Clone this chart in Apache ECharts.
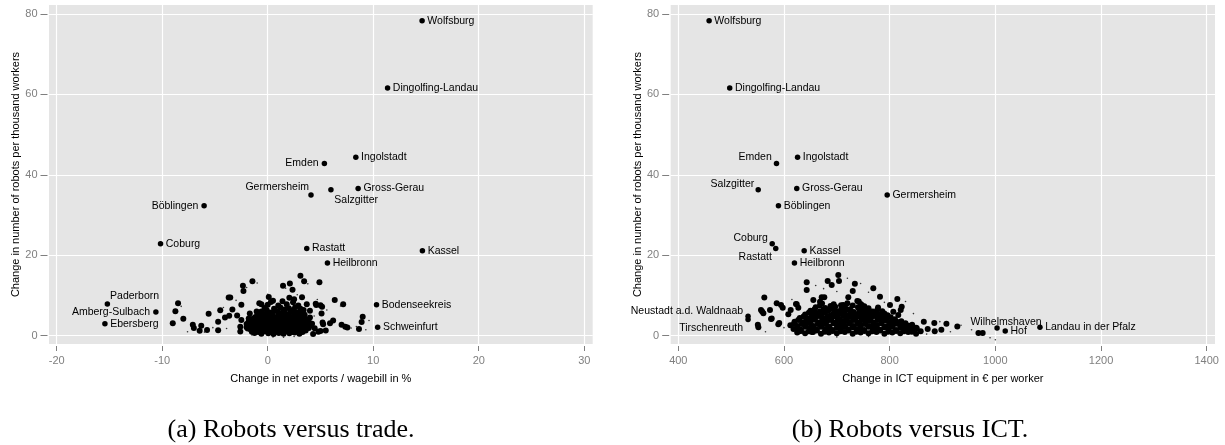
<!DOCTYPE html>
<html>
<head>
<meta charset="utf-8">
<script src="https://cdn.jsdelivr.net/npm/echarts@6/dist/echarts.min.js"></script>
<style>
  html, body { margin: 0; padding: 0; background: #ffffff; }
  #chart { width: 1225px; height: 445px; }
</style>
</head>
<body>
<div id="chart"></div>
<script>
// ---------------- data ----------------
const yTicks = [0, 20, 40, 60, 80];
const tradeTicks = [-20, -10, 0, 10, 20, 30];
const ictTicks = [400, 600, 800, 1000, 1200, 1400];

// Panel (a): labelled districts
const tradeNames = ['Wolfsburg', 'Dingolfing-Landau', 'Ingolstadt', 'Emden', 'Gross-Gerau', 'Salzgitter',
  'Germersheim', 'Böblingen', 'Coburg', 'Rastatt', 'Kassel', 'Heilbronn', 'Paderborn',
  'Amberg-Sulbach', 'Ebersberg', 'Bodenseekreis', 'Schweinfurt'];
const tradeX = [14.63, 11.36, 8.35, 5.37, 8.57, 5.99, 4.10, -6.03, -10.16, 3.70, 14.66, 5.66, -15.2, -10.6, -15.43, 10.31, 10.42];
const tradeY = [78.3, 61.6, 44.4, 42.8, 36.6, 36.3, 35.0, 32.3, 22.9, 21.7, 21.1, 18.1, 7.9, 5.9, 3.0, 7.7, 2.1];

// Panel (a): unlabelled districts (large markers)
const tradeCluster = [
  [-8.5, 8.1], [-8.75, 6.1], [-8.0, 4.2], [-9.0, 3.1], [-7.1, 2.7], [-7.0, 1.9], [-6.45, 1.25], [-6.3, 2.5],
  [-5.75, 1.4], [-5.6, 5.45], [-4.7, 3.5], [-4.7, 1.35], [-4.5, 6.35], [-4.05, 4.55], [-3.65, 4.95], [-3.35, 6.5],
  [-3.7, 9.5], [-3.55, 9.5], [-2.9, 5.0], [-2.5, 7.7], [-2.35, 12.45], [-2.3, 11.1], [-1.45, 13.55], [-2.5, 3.9],
  [-2.6, 2.2], [-2.6, 1.05], [-2.0, 2.1], [-1.7, 5.55], [-1.8, 4.3], [-1.05, 6.0], [-0.6, 7.8], [0.1, 9.6],
  [0.5, 8.7], [-0.8, 8.1],
  [1.45, 12.4], [2.1, 13.0], [2.35, 11.4], [2.05, 9.45], [2.5, 9.05], [3.1, 14.9], [3.45, 13.55], [3.25, 9.55],
  [4.9, 13.3], [4.6, 7.65], [5.15, 7.2], [6.35, 8.9], [7.15, 7.85], [5.1, 5.5], [5.25, 2.85], [5.9, 3.1],
  [6.2, 3.8], [4.3, 0.45], [5.0, 1.2], [5.5, 1.3], [7.0, 2.7], [7.35, 2.2], [7.55, 2.05], [4.45, 1.85],
  [8.65, 1.7], [9.0, 4.7], [8.9, 3.4], [4.8, 1.0], [3.1, 1.3], [4.55, 7.95], [5.0, 7.55], [5.2, 3.3],
  [4.0, 4.5], [4.2, 3.0], [4.0, 6.2], [3.7, 7.8],
  [-1.25, 0.7], [-0.6, 0.5], [0.05, 0.6], [0.55, 0.4], [1.05, 0.7], [1.5, 0.5], [2.05, 0.6], [2.55, 0.8], [3.0, 0.5],
  [-1.6, 1.5], [-1.0, 1.3], [-0.45, 1.4], [0.1, 1.6], [0.6, 1.3], [1.15, 1.5], [1.65, 1.2], [2.1, 1.5], [2.6, 1.4],
  [3.15, 1.6], [3.6, 1.3],
  [-1.85, 2.4], [-1.3, 2.2], [-0.8, 2.5], [-0.3, 2.2], [0.25, 2.4], [0.7, 2.1], [1.2, 2.5], [1.75, 2.3], [2.2, 2.2],
  [2.75, 2.5], [3.2, 2.3], [3.7, 2.1], [4.1, 2.6],
  [-1.6, 3.3], [-1.1, 3.0], [-0.6, 3.4], [-0.1, 3.1], [0.4, 3.3], [0.95, 3.0], [1.4, 3.4], [1.9, 3.2], [2.45, 3.0],
  [2.9, 3.3], [3.4, 3.1], [3.9, 3.4],
  [-1.4, 4.2], [-0.9, 4.0], [-0.35, 4.3], [0.1, 4.0], [0.65, 4.2], [1.1, 3.9], [1.6, 4.3], [2.1, 4.1], [2.6, 3.9],
  [3.1, 4.2], [3.6, 4.0],
  [-1.0, 5.1], [-0.5, 4.9], [0.05, 5.2], [0.5, 4.9], [1.0, 5.1], [1.55, 4.8], [2.0, 5.2], [2.5, 5.0], [3.05, 4.9], [3.5, 5.2],
  [-0.6, 6.0], [0.2, 5.8], [0.9, 6.1], [1.4, 5.8], [2.2, 6.0], [2.8, 5.8], [3.3, 6.1],
  [-0.3, 6.9], [0.6, 6.7], [1.2, 7.0], [2.0, 6.8], [2.6, 7.1], [3.1, 6.7],
  [0.0, 7.7], [1.0, 7.5], [1.8, 7.8], [2.9, 7.5],
  [0.3, 8.4], [1.4, 8.6], [2.4, 8.3],
  [-1.5, 1.0], [-0.9, 0.9], [-0.3, 1.1], [0.3, 0.9], [0.8, 1.0], [1.3, 0.9], [1.8, 1.1], [2.3, 0.9], [2.8, 1.1], [3.3, 0.9],
  [-1.9, 1.8], [-1.2, 1.9], [-0.7, 1.8], [-0.1, 2.0], [0.4, 1.8], [0.9, 1.9], [1.4, 2.0], [1.9, 1.8], [2.4, 1.9],
  [2.9, 2.0], [3.4, 1.8], [3.9, 1.9],
  [-2.0, 2.9], [-1.5, 2.7], [-1.0, 2.8], [-0.5, 2.9], [0.0, 2.7], [0.5, 2.8], [1.0, 2.9], [1.5, 2.7], [2.0, 2.8],
  [2.5, 2.9], [3.0, 2.7], [3.5, 2.8], [4.0, 2.9],
  [-1.8, 3.6], [-1.3, 3.8], [-0.8, 3.7], [-0.3, 3.6], [0.2, 3.8], [0.7, 3.7], [1.2, 3.6], [1.7, 3.8], [2.2, 3.7],
  [2.7, 3.6], [3.2, 3.8], [3.7, 3.7],
  [-1.2, 4.6], [-0.7, 4.5], [-0.2, 4.7], [0.3, 4.6], [0.8, 4.5], [1.3, 4.7], [1.8, 4.6], [2.3, 4.5], [2.8, 4.7], [3.3, 4.6],
  [-0.8, 5.5], [-0.2, 5.4], [0.4, 5.6], [1.1, 5.5], [1.8, 5.4], [2.5, 5.6], [3.1, 5.5],
  [-0.1, 6.4], [0.7, 6.3], [1.6, 6.5], [2.4, 6.4], [3.4, 6.4]
];
// Panel (a): very small districts (tiny markers)
const tradeSpecks = [
  [-8.2, 7.3], [-7.6, 1.0], [-5.2, 2.0], [-3.0, 8.8], [-2.0, 12.0], [-1.0, 13.1], [1.7, 11.8], [3.8, 12.9],
  [4.7, 9.0], [6.9, 7.4], [8.4, 2.3], [9.6, 3.8], [9.3, 1.5], [-3.9, 1.8], [0.5, -0.3], [1.5, -0.4], [2.5, -0.2],
  [-1.5, 0.2], [5.6, 6.4], [7.9, 1.9], [-6.0, 0.9], [-4.2, 7.0], [0.0, 10.3], [2.8, 10.2], [4.4, 4.9]
];

// Panel (b): labelled districts
const ictNames = ['Wolfsburg', 'Dingolfing-Landau', 'Emden', 'Ingolstadt', 'Salzgitter', 'Gross-Gerau',
  'Germersheim', 'Böblingen', 'Coburg', 'Rastatt', 'Kassel', 'Heilbronn', 'Neustadt a.d. Waldnaab',
  'Tirschenreuth', 'Wilhelmshaven', 'Hof', 'Landau in der Pfalz'];
const ictX = [458.3, 497.3, 585.8, 625.7, 551.2, 624.2, 795.3, 589.5, 577.7, 584.4, 638.2, 619.8, 532, 532, 1003.2, 1018.7, 1084.4];
const ictY = [78.3, 61.6, 42.8, 44.4, 36.3, 36.6, 35.0, 32.3, 22.9, 21.7, 21.1, 18.1, 4.85, 4.05, 1.9, 1.2, 2.1];

// Panel (b): unlabelled districts (large markers)
const ictCluster = [
  [550.5, 2.7], [551.5, 2.1], [562.8, 9.5], [556.5, 6.4], [561, 5.6], [558.6, 6.05], [573.5, 6.4], [576.8, 4.3],
  [575.5, 4.14], [586.2, 8.06], [594.4, 7.63], [597.6, 6.96], [589.2, 2.84], [591, 3.15], [608.2, 5.32], [612.7, 6.39],
  [624.1, 7.8], [627.1, 6.96], [622.7, 7.87], [643, 13.28], [643, 11.36], [655.5, 8.88], [652.5, 5.57], [668.2, 8.46],
  [671.4, 9.55], [676.3, 9.55], [682.7, 13.6], [690.3, 12.6], [702.8, 15.1], [704.1, 13.6], [712.3, 7.63], [721.7, 9.55],
  [730.1, 11.1], [734.1, 12.9], [738.8, 8.63], [741.5, 8.53], [747.1, 7.63], [752, 6.39], [769, 11.8], [781.7, 9.7],
  [800.6, 7.63], [806.9, 5.97], [814.5, 9.13], [822.8, 7.2], [820.9, 6.39], [816.3, 5.15], [838.5, 2.24], [851.2, 1.84],
  [864.6, 3.48], [884.5, 3.15], [907.4, 2.98], [928, 2.32], [897.8, 1.49], [885.3, 1.08], [858.7, 1.08], [872, 1.66],
  [842.5, 2.73], [628.6, 1.08], [652.9, 0.91], [968, 0.7], [976, 0.7],
  [625, 0.8], [640, 0.6], [655, 0.9], [670, 0.5], [685, 0.8], [700, 0.6], [715, 0.9], [730, 0.5], [745, 0.8],
  [760, 0.6], [775, 0.9], [790, 0.5], [805, 0.8], [820, 0.6], [835, 0.9], [850, 0.5],
  [618, 1.7], [632, 1.5], [648, 1.8], [662, 1.5], [678, 1.7], [692, 1.4], [708, 1.8], [722, 1.5], [738, 1.7],
  [752, 1.4], [768, 1.8], [782, 1.5], [798, 1.7], [812, 1.4], [828, 1.6], [843, 1.5],
  [612, 2.6], [626, 2.4], [641, 2.7], [656, 2.4], [671, 2.6], [686, 2.3], [701, 2.7], [716, 2.5], [731, 2.4],
  [746, 2.7], [761, 2.4], [776, 2.6], [791, 2.3], [806, 2.6], [821, 2.4], [836, 2.5],
  [620, 3.5], [635, 3.3], [650, 3.6], [665, 3.3], [680, 3.5], [695, 3.2], [710, 3.6], [725, 3.4], [740, 3.3],
  [755, 3.6], [770, 3.3], [785, 3.5], [800, 3.2], [815, 3.4], [830, 3.1],
  [630, 4.4], [645, 4.2], [660, 4.5], [675, 4.2], [690, 4.4], [705, 4.1], [720, 4.5], [735, 4.3], [750, 4.2],
  [765, 4.5], [780, 4.2], [795, 4.4], [810, 4.1],
  [640, 5.3], [655, 5.1], [672, 5.4], [688, 5.1], [703, 5.3], [718, 5.0], [734, 5.4], [749, 5.2], [764, 5.0],
  [780, 5.3], [796, 5.1],
  [650, 6.2], [668, 6.0], [684, 6.3], [700, 6.0], [716, 6.2], [732, 5.9], [750, 6.3], [768, 6.0], [786, 6.1],
  [660, 7.1], [678, 6.9], [697, 7.2], [716, 6.9], [740, 7.1], [760, 6.8], [778, 7.0],
  [672, 8.0], [694, 7.8], [720, 8.1], [745, 7.9],
  [632, 1.2], [647, 1.1], [662, 1.3], [677, 1.0], [692, 1.2], [707, 1.1], [722, 1.3], [737, 1.0], [752, 1.2],
  [767, 1.1], [782, 1.3], [797, 1.0], [812, 1.2], [827, 1.1], [842, 1.0],
  [625, 2.1], [640, 2.2], [655, 2.0], [670, 2.2], [685, 2.1], [700, 2.0], [715, 2.2], [730, 2.1], [745, 2.0],
  [760, 2.2], [775, 2.0], [790, 2.1], [805, 2.2], [820, 2.0], [835, 2.1], [850, 2.0],
  [619, 3.0], [634, 2.9], [649, 3.1], [664, 2.9], [679, 3.0], [694, 3.1], [709, 2.9], [724, 3.0], [739, 3.1],
  [754, 2.9], [769, 3.0], [784, 3.1], [799, 2.9], [814, 3.0], [829, 2.8],
  [627, 3.9], [642, 3.8], [657, 4.0], [672, 3.8], [687, 3.9], [702, 4.0], [717, 3.8], [732, 3.9], [747, 4.0],
  [762, 3.8], [777, 3.9], [792, 3.8], [807, 3.7], [822, 3.6],
  [637, 4.8], [652, 4.7], [667, 4.9], [682, 4.7], [697, 4.8], [712, 4.9], [727, 4.7], [742, 4.8], [757, 4.7],
  [772, 4.9], [787, 4.7], [802, 4.6],
  [647, 5.7], [662, 5.6], [678, 5.8], [694, 5.6], [710, 5.7], [726, 5.8], [742, 5.6], [758, 5.7], [774, 5.6], [790, 5.5],
  [658, 6.6], [675, 6.5], [692, 6.7], [708, 6.5], [725, 6.6], [742, 6.7], [760, 6.4], [777, 6.5],
  [668, 7.5], [688, 7.4], [708, 7.6], [730, 7.5], [752, 7.3]
];
// Panel (b): very small districts (tiny markers)
const ictSpecks = [
  [565, 1.0], [600, 2.0], [615, 9.0], [660, 12.5], [700, 11.0], [745, 13.0], [760, 10.8], [790, 8.3], [830, 8.5],
  [845, 5.5], [870, 0.4], [895, 3.5], [915, 1.0], [935, 2.6], [955, 1.5], [990, -0.5], [1000, -1.0], [700, -0.3],
  [760, -0.2], [820, 0.2], [640, 4.0], [675, 11.7], [720, 14.3]
];

// ---------------- styling / layout ----------------
const FONT = "'Liberation Sans', Arial, Helvetica, sans-serif";
// label placement: 'left', or [dx, dy, align] offset from marker centre (pixels)
const placeA = {
  'Emden': 'left', 'Böblingen': 'left', 'Amberg-Sulbach': 'left',
  'Germersheim': [-2, -8, 'right'], 'Salzgitter': [3.4, 10.5, 'left'], 'Paderborn': [2.7, -7.7, 'left']
};
const placeB = {
  'Emden': [-4.7, -6.3, 'right'], 'Salzgitter': [-3.9, -6, 'right'], 'Coburg': [-4.3, -5.7, 'right'],
  'Rastatt': [-3.9, 9, 'right'], 'Wilhelmshaven': [9, -6, 'center'],
  'Neustadt a.d. Waldnaab': [-5, -5.3, 'right'], 'Tirschenreuth': [-5, 8.3, 'right']
};

function labelFor(p) {
  const base = { show: true, color: '#000', fontSize: 10.5, fontFamily: FONT, formatter: '{b}' };
  if (!p) return Object.assign(base, { position: 'right', distance: 2.5 });
  if (p === 'left') return Object.assign(base, { position: 'left', distance: 3 });
  return Object.assign(base, { position: 'inside', offset: [p[0], p[1]], align: p[2], verticalAlign: 'middle' });
}
function labelled(names, xs, ys, place) {
  return names.map((n, i) => ({ name: n, value: [xs[i], ys[i]], label: labelFor(place[n]) }));
}

function xAxisFor(gi, min, max, ticks, name) {
  return {
    gridIndex: gi, type: 'value', min: min, max: max, offset: 2,
    axisLine: { show: false, onZero: false },
    axisTick: { show: true, length: 5, customValues: ticks, lineStyle: { color: '#7f7f7f', width: 1 } },
    axisLabel: { customValues: ticks, color: '#7f7f7f', fontSize: 11, fontFamily: FONT, margin: 9, formatter: v => String(v) },
    splitLine: { show: true, lineStyle: { color: '#ffffff', width: 1.2 } },
    name: name, nameLocation: 'middle', nameGap: 27,
    nameTextStyle: { color: '#000', fontSize: 11, fontFamily: FONT }
  };
}
function yAxisFor(gi) {
  return {
    gridIndex: gi, type: 'value', min: -2.06, max: 82.24, offset: 1.5,
    axisLine: { show: false, onZero: false },
    axisTick: { show: true, length: 7, customValues: yTicks, lineStyle: { color: '#7f7f7f', width: 1 } },
    axisLabel: { customValues: yTicks, color: '#7f7f7f', fontSize: 11, fontFamily: FONT, margin: 10, formatter: v => String(v) },
    splitLine: { show: true, lineStyle: { color: '#ffffff', width: 1.2 } },
    name: 'Change in number of robots per thousand workers', nameLocation: 'middle', nameGap: 25,
    nameTextStyle: { color: '#000', fontSize: 11, fontFamily: FONT }
  };
}

const dot = { color: '#000', opacity: 1 };
const chart = echarts.init(document.getElementById('chart'), null, { renderer: 'canvas' });
chart.setOption({
  animation: false,
  backgroundColor: '#ffffff',
  grid: [
    { left: 49, top: 5, width: 543.7, height: 339, show: true, backgroundColor: '#e5e5e5', borderWidth: 0 },
    { left: 670.7, top: 5, width: 544.3, height: 339, show: true, backgroundColor: '#e5e5e5', borderWidth: 0 }
  ],
  xAxis: [
    xAxisFor(0, -20.73, 30.8, tradeTicks, 'Change in net exports / wagebill in %'),
    xAxisFor(1, 385.6, 1415.7, ictTicks, 'Change in ICT equipment in € per worker')
  ],
  yAxis: [yAxisFor(0), yAxisFor(1)],
  series: [
    { type: 'scatter', xAxisIndex: 0, yAxisIndex: 0, data: tradeSpecks, symbolSize: 1.6, itemStyle: { color: '#333', opacity: 1 }, silent: true },
    { type: 'scatter', xAxisIndex: 0, yAxisIndex: 0, data: tradeCluster, symbolSize: 6, itemStyle: dot, silent: true },
    { type: 'scatter', xAxisIndex: 0, yAxisIndex: 0, data: labelled(tradeNames, tradeX, tradeY, placeA), symbolSize: 5.5, itemStyle: dot, silent: true },
    { type: 'scatter', xAxisIndex: 1, yAxisIndex: 1, data: ictSpecks, symbolSize: 1.6, itemStyle: { color: '#333', opacity: 1 }, silent: true },
    { type: 'scatter', xAxisIndex: 1, yAxisIndex: 1, data: ictCluster, symbolSize: 6, itemStyle: dot, silent: true },
    { type: 'scatter', xAxisIndex: 1, yAxisIndex: 1, data: labelled(ictNames, ictX, ictY, placeB), symbolSize: 5.5, itemStyle: dot, silent: true }
  ],
  graphic: [
    { type: 'text', x: 291, y: 430, style: { text: '(a) Robots versus trade.', textAlign: 'center', textVerticalAlign: 'middle', font: "26px 'Liberation Serif', 'Times New Roman', serif", fill: '#000' } },
    { type: 'text', x: 910, y: 430, style: { text: '(b) Robots versus ICT.', textAlign: 'center', textVerticalAlign: 'middle', font: "26px 'Liberation Serif', 'Times New Roman', serif", fill: '#000' } }
  ]
});
</script>
</body>
</html>
